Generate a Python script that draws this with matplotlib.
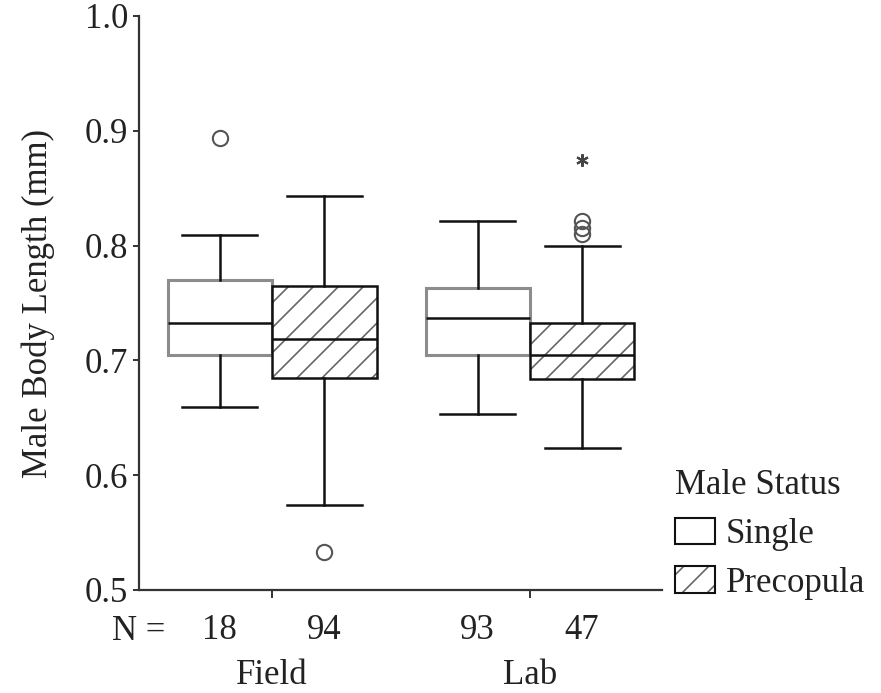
import matplotlib
matplotlib.use("Agg")
import matplotlib.pyplot as plt
from matplotlib.patches import Patch
from matplotlib.colors import to_rgba
from matplotlib.transforms import blended_transform_factory
from matplotlib.backend_bases import GraphicsContextBase

# finer hatch spacing (about 12 px between hatch lines)
_orig_hatch_path = GraphicsContextBase.get_hatch_path
def _hatch_path(self, density=8.0):
    return _orig_hatch_path(self, density)
GraphicsContextBase.get_hatch_path = _hatch_path

plt.rcParams['font.family'] = ['Liberation Serif', 'DejaVu Serif']
plt.rcParams['hatch.linewidth'] = 1.2

# ---- data ----
groups = ["Field", "Lab"]
statuses = ["Single", "Precopula"]
counts = [18, 94, 93, 47]
q1 = [0.705, 0.685, 0.705, 0.684]
med = [0.733, 0.719, 0.737, 0.705]
q3 = [0.770, 0.765, 0.763, 0.733]
whislo = [0.659, 0.574, 0.653, 0.624]
whishi = [0.809, 0.843, 0.821, 0.800]
fliers = [[0.894], [0.533], [], [0.810, 0.815, 0.821]]
extremes = [[], [], [], [0.875]]
y_ticks = [0.5, 0.6, 0.7, 0.8, 0.9, 1.0]
y_ticklabels = ["0.5", "0.6", "0.7", "0.8", "0.9", "1.0"]

W, H = 881, 693
FS = 25
fig = plt.figure(figsize=(W / 100, H / 100), dpi=100)
ax = fig.add_axes([139 / W, (H - 590) / H, (662 - 139) / W, (590 - 16) / H])

group_centers = [1.0, 2.0]
box_w = 0.405
positions = []
for gc in group_centers:
    positions += [gc - box_w / 2, gc + box_w / 2]

stats = []
for i in range(4):
    stats.append(dict(med=med[i], q1=q1[i], q3=q3[i], whislo=whislo[i],
                      whishi=whishi[i], fliers=fliers[i]))

txt = '#222222'
hatch_col = to_rgba('#666666')
for i in range(4):
    single = (i % 2 == 0)
    res = ax.bxp([stats[i]], positions=[positions[i]], widths=box_w, patch_artist=True,
                 showfliers=True, showcaps=True,
                 boxprops=dict(facecolor='white',
                               edgecolor='#8c8c8c' if single else '#111111',
                               linewidth=2.2 if single else 1.8,
                               hatch=None if single else '/'),
                 medianprops=dict(color='#111111', linewidth=1.8),
                 whiskerprops=dict(color='#111111', linewidth=1.8),
                 capprops=dict(color='#111111', linewidth=1.8),
                 capwidths=box_w * 0.72,
                 flierprops=dict(marker='o', markersize=11, markerfacecolor='none',
                                 markeredgecolor='#555555', markeredgewidth=1.5,
                                 linestyle='none'),
                 manage_ticks=False)
    if not single:
        for b in res['boxes']:
            b._hatch_color = hatch_col
    if extremes[i]:
        ax.plot([positions[i]] * len(extremes[i]), extremes[i], linestyle='none',
                marker=(6, 2, 0), markersize=9, color='#444444', markeredgewidth=1.5)

ax.set_xlim(0.484, 2.512)
ax.set_ylim(0.5, 1.0)
ax.set_yticks(y_ticks)
ax.set_yticklabels(y_ticklabels)
ax.set_xticks(positions)
ax.set_xticklabels([str(c) for c in counts])
ax.set_xticks(group_centers, minor=True)
ax.tick_params(axis='x', which='major', length=0, pad=17, labelsize=FS, labelcolor=txt)
ax.tick_params(axis='x', which='minor', length=6, width=1.4, direction='out', color='#333333')
ax.tick_params(axis='y', length=4, width=1.4, pad=4, labelsize=FS, labelcolor=txt,
               color='#333333')
for s in ['top', 'right']:
    ax.spines[s].set_visible(False)
for s in ['left', 'bottom']:
    ax.spines[s].set_linewidth(1.6)
    ax.spines[s].set_color('#333333')

trans = blended_transform_factory(ax.transData, ax.transAxes)
ax.text((112 - 139) / 523, (590 - 628) / 574, "N =", transform=ax.transAxes,
        ha='left', va='center_baseline', fontsize=FS, color=txt)
for gc, g in zip(group_centers, groups):
    ax.text(gc, (590 - 676) / 574, g, transform=trans, ha='center', va='center',
            fontsize=FS, color=txt)

ax.set_ylabel("Male Body Length (mm)", fontsize=FS, color=txt, labelpad=21)

handles = [Patch(facecolor='white', edgecolor='#111111', linewidth=1.5),
           Patch(facecolor='white', edgecolor='#111111', linewidth=1.5, hatch='/')]
handles[1]._hatch_color = hatch_col
leg = fig.legend(handles, statuses, title="Male Status", loc='upper left',
                 bbox_to_anchor=(675 / W, 1 - 469 / H), frameon=False,
                 fontsize=FS, title_fontsize=FS, alignment='left',
                 handlelength=1.15, handleheight=0.78, handletextpad=0.32,
                 labelspacing=0.45, borderpad=0.0, borderaxespad=0.0)
for t in leg.get_texts():
    t.set_color(txt)
leg.get_title().set_color(txt)

fig.savefig("out.png", dpi=100)
